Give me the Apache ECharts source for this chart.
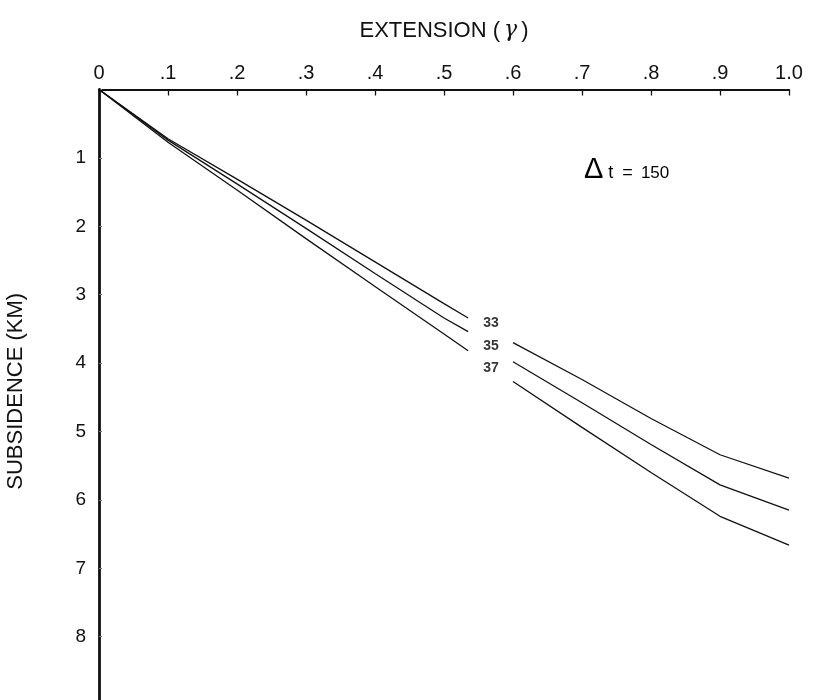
<!DOCTYPE html>
<html>
<head>
<meta charset="utf-8">
<script src="https://cdn.jsdelivr.net/npm/echarts@6/dist/echarts.min.js"></script>
<style>
html,body{margin:0;padding:0;background:#fff;}
#chart{width:813px;height:700px;}
</style>
</head>
<body>
<div id="chart"></div>
<script>
// Extension values (gamma); null entry marks the gap where the curve labels sit
const extension = [0, 0.1, 0.2, 0.3, 0.4, 0.5, 0.535, 0.57, 0.6, 0.7, 0.8, 0.9, 1.0];
const subsidence33 = [0, 0.72, 1.31, 1.91, 2.52, 3.13, 3.34, null, 3.70, 4.24, 4.81, 5.34, 5.68];
const subsidence35 = [0, 0.74, 1.38, 2.03, 2.69, 3.34, 3.54, null, 3.98, 4.58, 5.19, 5.78, 6.15];
const subsidence37 = [0, 0.77, 1.47, 2.18, 2.88, 3.575, 3.82, null, 4.27, 4.94, 5.60, 6.24, 6.66];

const curveNames = ['33', '35', '37'];
const curveLabelX = [0.568, 0.568, 0.568];
const curveLabelY = [3.42, 3.75, 4.08];

const xTickLabels = {0: '0', 1: '.1', 2: '.2', 3: '.3', 4: '.4', 5: '.5', 6: '.6', 7: '.7', 8: '.8', 9: '.9', 10: '1.0'};
const yTickLabels = ['1', '2', '3', '4', '5', '6', '7', '8'];

const FONT = 'Liberation Sans, Arial, Helvetica, sans-serif';

function toPairs(vals) {
  return extension.map((x, i) => [x, vals[i] === null ? '-' : vals[i]]);
}

const chart = echarts.init(document.getElementById('chart'), null, {renderer: 'canvas'});

function lineSeries(name, vals) {
  return {
    name: name,
    type: 'line',
    data: toPairs(vals),
    showSymbol: false,
    symbol: 'none',
    connectNulls: false,
    smooth: false,
    lineStyle: {color: '#111', width: 1.3},
    silent: true,
    animation: false
  };
}

const option = {
  animation: false,
  backgroundColor: '#fff',
  grid: {left: 99, top: 89.5, width: 690, height: 615.6, containLabel: false, outerBoundsMode: 'none'},
  xAxis: {
    type: 'value',
    position: 'top',
    min: 0,
    max: 1,
    interval: 0.1,
    name: 'EXTENSION ({g|γ})',
    nameLocation: 'middle',
    nameGap: 48,
    nameTextStyle: {
      fontFamily: FONT, fontSize: 22, color: '#111',
      rich: {g: {fontFamily: 'DejaVu Serif, serif', fontStyle: 'italic', fontSize: 22, color: '#111', padding: [0, 4, 0, 4]}}
    },
    axisLine: {show: true, onZero: false, lineStyle: {color: '#111', width: 2}},
    axisTick: {show: true, inside: true, length: 6, lineStyle: {color: '#111', width: 1.3}},
    axisLabel: {
      show: true, margin: 6, fontFamily: FONT, fontSize: 20, color: '#111',
      showMinLabel: true, showMaxLabel: true,
      formatter: function (v) { return xTickLabels[Math.round(v * 10)] || ''; }
    },
    splitLine: {show: false}
  },
  yAxis: {
    type: 'value',
    inverse: true,
    min: 0,
    max: 9,
    interval: 1,
    name: 'SUBSIDENCE (KM)',
    nameLocation: 'middle',
    nameGap: 72,
    nameRotate: 90,
    nameTextStyle: {fontFamily: FONT, fontSize: 22, color: '#111', padding: [0, 0, 0, 12]},
    axisLine: {show: true, onZero: false, lineStyle: {color: '#111', width: 2.8}},
    axisTick: {show: true, inside: true, length: 3, lineStyle: {color: '#777', width: 1}},
    axisLabel: {
      show: true, margin: 13, fontFamily: FONT, fontSize: 19, color: '#111',
      formatter: function (v) {
        const k = Math.round(v);
        return (k >= 1 && k <= yTickLabels.length && Math.abs(v - k) < 1e-6) ? yTickLabels[k - 1] : '';
      }
    },
    splitLine: {show: false}
  },
  series: [
    lineSeries('33', subsidence33),
    lineSeries('35', subsidence35),
    lineSeries('37', subsidence37),
    {
      type: 'scatter',
      symbolSize: 0,
      silent: true,
      data: curveNames.map((n, i) => ({name: n, value: [curveLabelX[i], curveLabelY[i]]})),
      label: {
        show: true,
        position: 'inside',
        formatter: '{b}',
        fontFamily: FONT,
        fontWeight: 'bold',
        fontSize: 14,
        color: '#000'
      }
    }
  ],
  graphic: [
    {
      type: 'text',
      left: 584,
      top: 155,
      style: {
        text: '{d|Δ}{t|t}{e|=}{n|150}',
        rich: {
          d: {fontFamily: FONT, fontSize: 29, color: '#111', verticalAlign: 'bottom', padding: [0, 5, 0, 0]},
          t: {fontFamily: FONT, fontSize: 18, color: '#111', verticalAlign: 'bottom', padding: [0, 0, 2, 0]},
          e: {fontFamily: FONT, fontSize: 18, color: '#111', verticalAlign: 'bottom', padding: [0, 8, 2, 9]},
          n: {fontFamily: FONT, fontSize: 17, color: '#111', verticalAlign: 'bottom', padding: [0, 0, 2, 0]}
        }
      }
    }
  ]
};

chart.setOption(option);
</script>
</body>
</html>
